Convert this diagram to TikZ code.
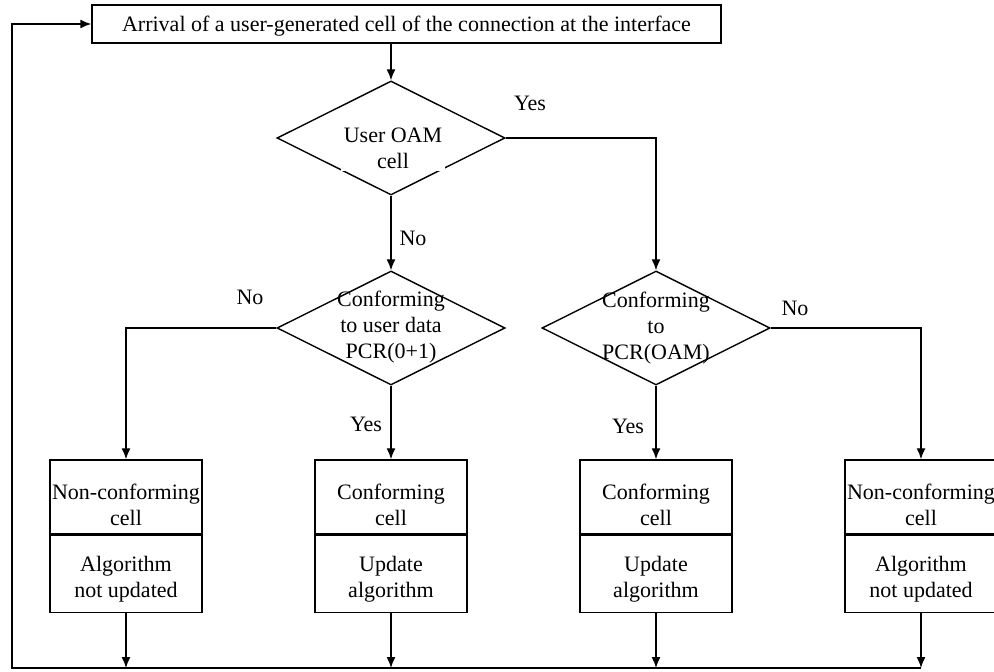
\documentclass[tikz,border=0pt]{standalone}
\usepackage{fontspec}
\setmainfont{Liberation Serif}
\usetikzlibrary{arrows.meta, shapes.geometric, positioning}

\begin{document}
\begin{tikzpicture} [x=0.5pt, y=-0.5pt, >={Latex[length=5.5pt, width=4.5pt]}, line width=0.7pt,
  every node/.style={font=\fontsize{11}{13}\selectfont, align=center},
  decision/.style={diamond, draw, minimum width=114pt, minimum height=57pt, inner sep=0pt},
  upper/.style={draw, minimum width=76pt, minimum height=37pt, inner sep=0pt, text height=28.5pt},
  lower/.style={draw, minimum width=76pt, minimum height=38.5pt, inner sep=0pt, text height=25.5pt}]
\useasboundingbox (0,0) rectangle (994,672);
\node[draw, minimum width=314.5pt, minimum height=19pt, inner sep=0pt, text height=10pt] (top) at (406.5,24) {Arrival of a user-generated cell of the connection at the interface};
\node[decision] (d1) at (391,138) {};
\node[decision] (d2) at (391,328) {};
\node[decision] (d3) at (656,328) {};
\node[fill=white, inner sep=1.5pt] (t1) at (393,148) {User OAM\\cell};
\node (t2) at (391,327) {Conforming\\to user data\\PCR(0+1)};
\node (t3) at (656,328) {Conforming\\to\\PCR(OAM)};
% result boxes
\node[upper] (c1) at (126,497) {Non-conforming\\cell};
\node[upper] (c2) at (391,497) {Conforming\\cell};
\node[upper] (c3) at (656,497) {Conforming\\cell};
\node[upper] (c4) at (921,497) {Non-conforming\\cell};
\node[lower, below=0pt of c1] (a1) {Algorithm\\not updated};
\node[lower, below=0pt of c2] (a2) {Update\\algorithm};
\node[lower, below=0pt of c3] (a3) {Update\\algorithm};
\node[lower, below=0pt of c4] (a4) {Algorithm\\not updated};
% yes / no
\node (y1) at (530,103) {Yes};
\node (n1) at (413,238) {No};
\node (n2) at (250,297) {No};
\node (y2) at (366,424) {Yes};
\node (y3) at (628,426) {Yes};
\node (n3) at (795,308) {No};
\coordinate (back) at (12,668);
\draw[->] (d1.north |- top.south) -- (d1.north);
\draw[->] (d1.south) -- (d2.north);
\draw[->] (d1.east) -| (d3.north);
\draw[->] (d2.west) -| (c1.north);
\draw[->] (d2.south) -- (c2.north);
\draw[->] (d3.south) -- (c3.north);
\draw[->] (d3.east) -| (c4.north);
\foreach \i in {1,...,4}
  \draw[->] (a\i.south) -- (a\i.south |- back);
\draw[->] (a4.south |- back) -- (back) |- (top.west);
\end{tikzpicture}
\end{document}
